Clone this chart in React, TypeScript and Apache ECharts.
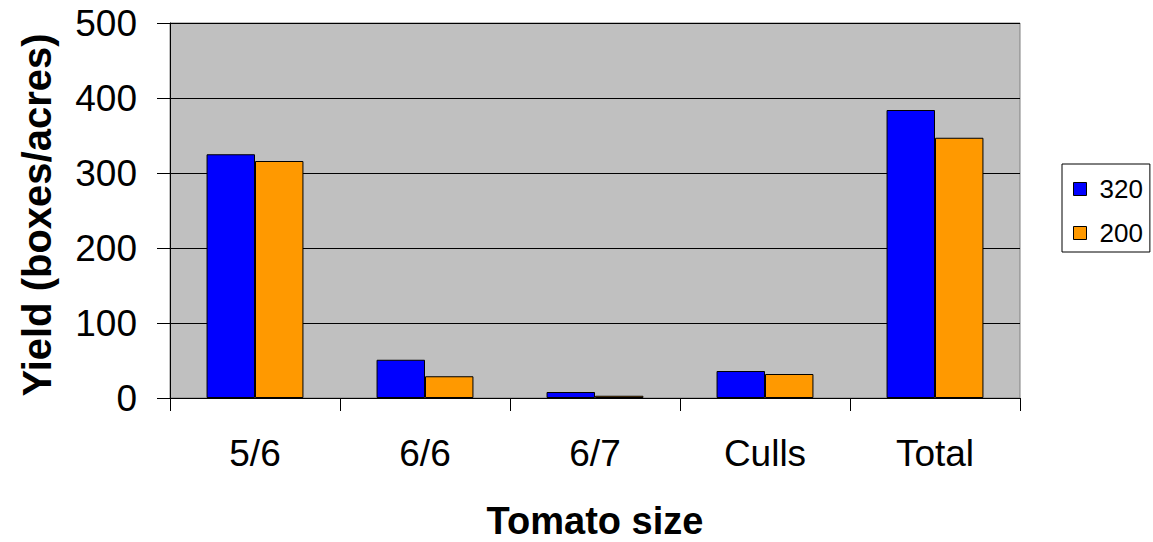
import React, { useEffect, useRef } from "react";
import * as echarts from "echarts";

const categories = ["5/6", "6/6", "6/7", "Culls", "Total"];
const series320 = [325, 51, 8, 36, 384];
const series200 = [316, 29, 3, 32, 347];
const seriesNames = ["320", "200"];
const FONT = 'Arial, "Liberation Sans", sans-serif';

export default function App() {
  const ref = useRef<HTMLDivElement>(null);
  useEffect(() => {
    const chart = echarts.init(ref.current!, null, { renderer: "svg" });
    chart.setOption({
      animation: false,
      backgroundColor: "#ffffff",
      textStyle: { fontFamily: FONT },
      grid: {
        left: 170,
        top: 23,
        right: 133,
        bottom: 144,
        show: true,
        backgroundColor: "#c0c0c0",
        borderColor: "#808080",
        borderWidth: 1,
      },
      legend: {
        orient: "vertical",
        left: 1062,
        top: 164,
        padding: [12, 7, 6, 11],
        itemGap: 18,
        itemWidth: 13,
        itemHeight: 13,
        icon: "rect",
        borderColor: "#000",
        borderWidth: 1,
        itemStyle: { borderColor: "#000", borderWidth: 1 },
        textStyle: { fontSize: 26, color: "#000", fontFamily: FONT, padding: [0, 0, 0, 8] },
        data: seriesNames,
      },
      xAxis: {
        type: "category",
        data: categories,
        axisLine: { lineStyle: { color: "#000", width: 1 } },
        axisTick: { show: true, length: 13, lineStyle: { color: "#000" } },
        axisLabel: { fontSize: 37, color: "#000", margin: 37, fontFamily: FONT },
        splitLine: { show: false },
      },
      yAxis: {
        type: "value",
        min: 0,
        max: 500,
        interval: 100,
        axisLine: { show: true, lineStyle: { color: "#000", width: 1 } },
        axisTick: { show: true, length: 13, lineStyle: { color: "#000" } },
        axisLabel: { fontSize: 37, color: "#000", margin: 33, fontFamily: FONT },
        splitLine: { show: true, lineStyle: { color: "#000", width: 1 } },
      },
      graphic: [
        {
          type: "text",
          x: 37,
          y: 215,
          rotation: Math.PI / 2,
          style: {
            text: "Yield (boxes/acres)",
            font: `bold 40px ${FONT}`,
            fill: "#000",
            textAlign: "center",
            textVerticalAlign: "middle",
          },
        },
        {
          type: "text",
          x: 595,
          y: 521,
          style: {
            text: "Tomato size",
            font: `bold 38px ${FONT}`,
            fill: "#000",
            textAlign: "center",
            textVerticalAlign: "middle",
          },
        },
      ],
      series: [
        {
          name: seriesNames[0],
          type: "bar",
          data: series320,
          barGap: "0%",
          barCategoryGap: "43%",
          itemStyle: { color: "#0000ff", borderColor: "#000", borderWidth: 1 },
        },
        {
          name: seriesNames[1],
          type: "bar",
          data: series200,
          barGap: "0%",
          barCategoryGap: "43%",
          itemStyle: { color: "#ff9900", borderColor: "#000", borderWidth: 1 },
        },
      ],
    });
    return () => chart.dispose();
  }, []);
  return (
    <div
      ref={ref}
      style={{ position: "fixed", left: 0, top: 0, width: 1153, height: 542 }}
    />
  );
}
